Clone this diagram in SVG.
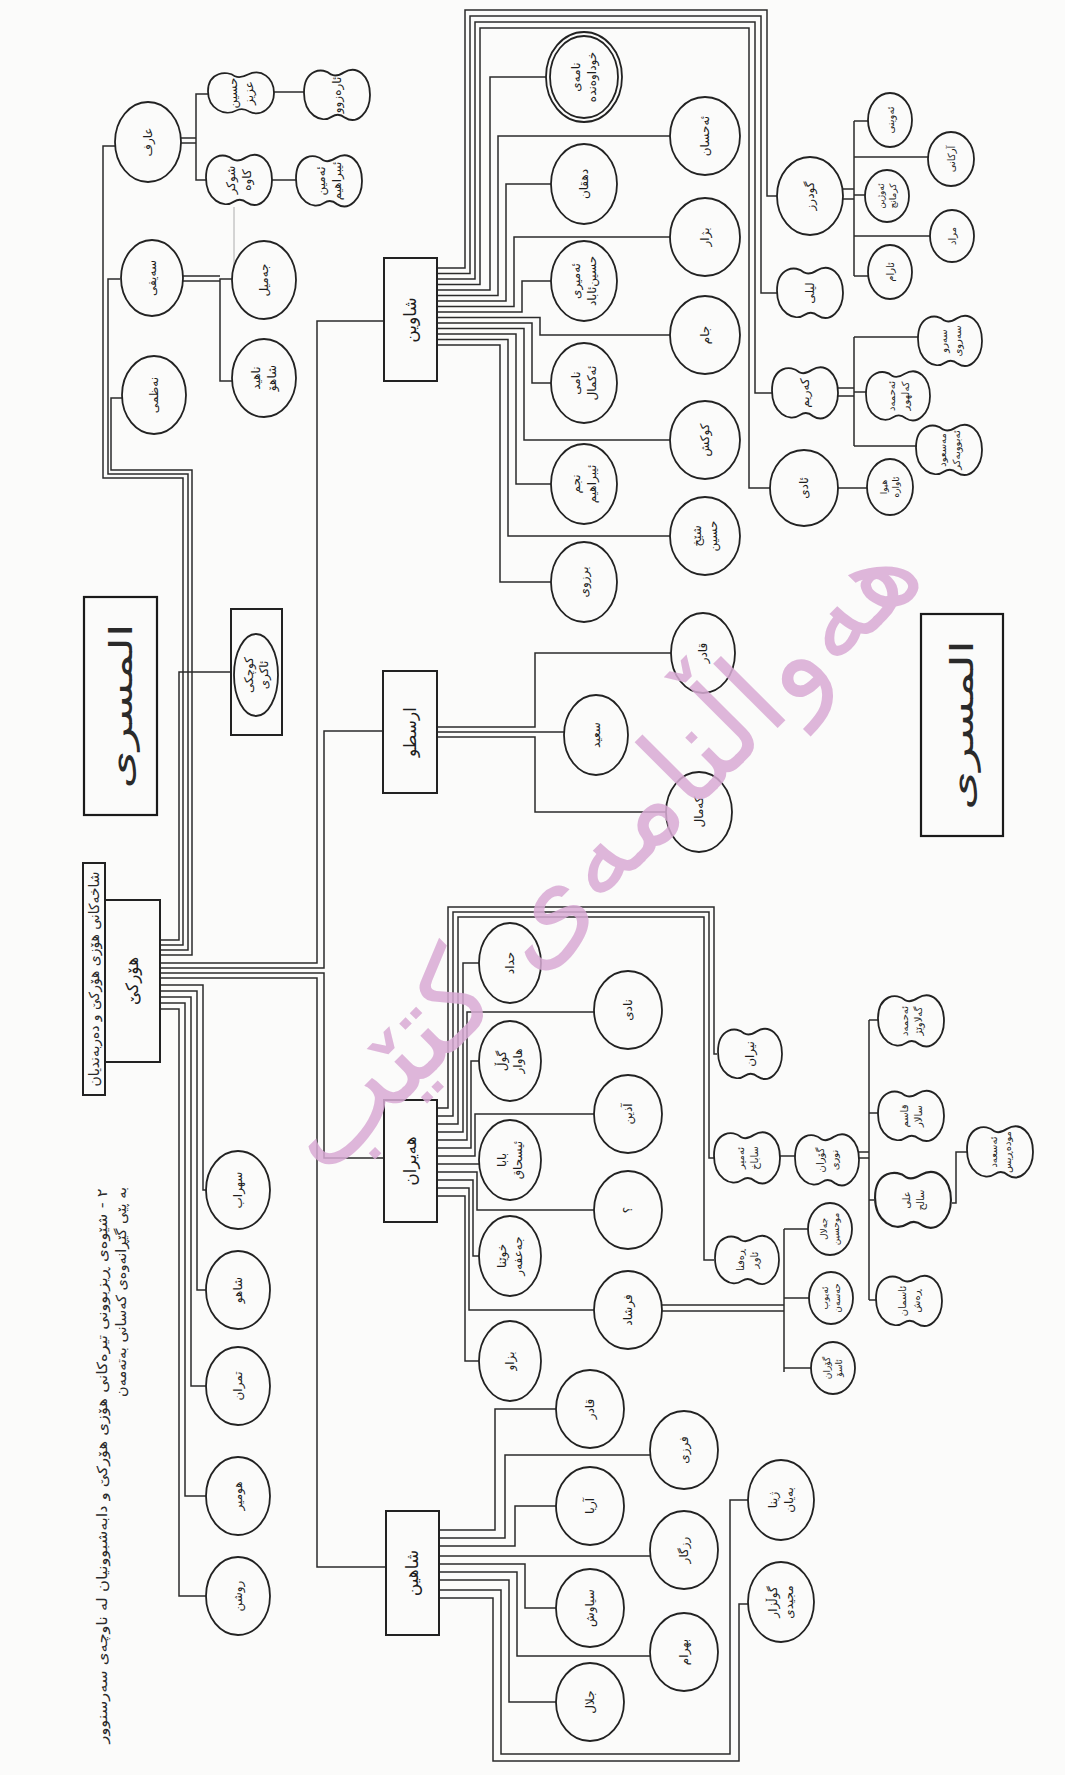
<svg xmlns="http://www.w3.org/2000/svg" xmlns:xlink="http://www.w3.org/1999/xlink" width="1065" height="1775" viewBox="0 0 1065 1775">
<style>
.ln{fill:none;stroke:#2b2b2b;stroke-width:1.5}
.fa{fill:none;stroke:#9a9a9a;stroke-width:0.8}
.nd{fill:none;stroke:#222;stroke-width:1.8}
.bx{fill:none;stroke:#222;stroke-width:2}
.bb{fill:none;stroke:#1a1a1a;stroke-width:2.2}
.lb{font-family:"DejaVu Sans",sans-serif;font-size:12px;fill:#1e1e1e;text-anchor:middle;dominant-baseline:central}
.lbb{font-family:"DejaVu Sans",sans-serif;font-size:17px;fill:#1e1e1e;text-anchor:middle;dominant-baseline:central}
.big{font-family:"DejaVu Sans",sans-serif;font-size:32px;fill:#2a2a2a;text-anchor:middle;dominant-baseline:central}
.ttl{font-family:"DejaVu Sans",sans-serif;font-size:14px;fill:#2a2a2a;text-anchor:middle;dominant-baseline:central}
.wm{font-family:"DejaVu Sans",sans-serif;font-size:120px;fill:#d9abd5;opacity:0.85;text-anchor:middle;dominant-baseline:central}
</style>
<defs>
<path id="pn" d="M-6,-19 C-14,-26 -33,-24 -33,-2 C-33,18 -16,27 -5,20 C0,17 4,18 8,21 C20,28 33,16 33,0 C33,-18 20,-28 7,-21 C2,-18 -2,-17 -6,-19 Z"/>
</defs>
<rect width="1065" height="1775" fill="#fbfbfa"/>

<g id="connectors">
<path class="ln" d="M115,146 H103 V478 H183 V945 H160"/>
<path class="ln" d="M120,279 H108 V474 H188 V950 H160"/>
<path class="ln" d="M122,398 H111 V470 H192 V955 H160"/>
<path class="ln" d="M231,672 H179 V940 H160"/>
<path class="ln" d="M181,138 H196 M181,143 H196 M208,94 H196 V180 H207 M274,92 H304 M272,180 H296"/>
<path class="ln" d="M183,276 H220 M183,281 H220 M232,279 H220 V381 H232"/>
<path class="fa" d="M234,207 V268"/>
<path class="ln" d="M160,963 H317 V321 H384"/>
<path class="ln" d="M160,968 H324 V731 H383"/>
<path class="ln" d="M160,973 H324 V1158 H384"/>
<path class="ln" d="M160,978 H317 V1567 H386"/>
<path class="ln" d="M160,985 H203 V1190 H207"/>
<path class="ln" d="M160,991 H197 V1290 H206"/>
<path class="ln" d="M160,997 H191 V1386 H206"/>
<path class="ln" d="M160,1003 H185 V1496 H206"/>
<path class="ln" d="M160,1009 H179 V1596 H206"/>
<path class="ln" d="M437,268 H465 V10 H767 V196 H777"/>
<path class="ln" d="M437,273.5 H470 V16 H761 V293 H777"/>
<path class="ln" d="M437,279 H475 V22 H755 V393 H772"/>
<path class="ln" d="M437,284.5 H480 V28 H749 V488 H770"/>
<path class="ln" d="M437,290 H490 V77 H546"/>
<path class="ln" d="M437,295.5 H498 V136 H670"/>
<path class="ln" d="M437,301 H506 V184 H551"/>
<path class="ln" d="M437,306.5 H514 V237 H670"/>
<path class="ln" d="M437,312 H522 V281 H551"/>
<path class="ln" d="M437,317.5 H540 V335 H670"/>
<path class="ln" d="M437,323 H532 V383 H551"/>
<path class="ln" d="M437,328.5 H524 V440 H670"/>
<path class="ln" d="M437,334 H516 V484 H551"/>
<path class="ln" d="M437,339.5 H508 V536 H670"/>
<path class="ln" d="M437,345 H500 V582 H551"/>
<path class="ln" d="M842,189 H854 M842,199 H854 M854,121 V276 M854,121 H868 M854,157 H928 M854,195 H865 M854,236 H930 M854,276 H868"/>
<path class="ln" d="M838,388 H854 M838,396 H854 M854,337 V446 M854,337 H918 M854,392 H866 M854,446 H917"/>
<path class="ln" d="M838,488 H867"/>
<path class="ln" d="M437,727 H535 V653 H671 M437,732 H564 M437,737 H535 V812 H666"/>
<path class="ln" d="M437,1108 H448 V907 H714 V1054 H717"/>
<path class="ln" d="M437,1116 H453 V912 H709 V1158 H714"/>
<path class="ln" d="M437,1124 H458 V917 H704 V1260 H714"/>
<path class="ln" d="M437,1132 H463 V963 H479"/>
<path class="ln" d="M437,1140 H467 V1012 H594"/>
<path class="ln" d="M437,1148 H471 V1061 H479"/>
<path class="ln" d="M437,1156 H475 V1114 H594"/>
<path class="ln" d="M437,1164 H479"/>
<path class="ln" d="M437,1172 H477 V1210 H594"/>
<path class="ln" d="M437,1180 H473 V1256 H479"/>
<path class="ln" d="M437,1188 H469 V1310 H594"/>
<path class="ln" d="M437,1196 H465 V1361 H479"/>
<path class="ln" d="M780,1156 H795"/>
<path class="ln" d="M859,1152 H869 M859,1158 H869 M869,1020 V1300 M869,1020 H878 M869,1113 H878 M869,1200 H874 M869,1300 H876"/>
<path class="ln" d="M952,1203 H956 V1152 H967"/>
<path class="ln" d="M661,1305 H784 M661,1311 H784 M784,1229 V1372 M784,1229 H808 M784,1298 H809 M784,1368 H811"/>
<path class="ln" d="M439,1530 H495 V1409 H556"/>
<path class="ln" d="M439,1538 H505 V1455 H651"/>
<path class="ln" d="M439,1546 H515 V1506 H556"/>
<path class="ln" d="M439,1556 H651"/>
<path class="ln" d="M439,1564 H525 V1608 H556"/>
<path class="ln" d="M439,1572 H517 V1656 H650"/>
<path class="ln" d="M439,1580 H509 V1702 H556"/>
<path class="ln" d="M439,1590 H501 V1754 H730 V1500 H748"/>
<path class="ln" d="M439,1598 H493 V1761 H739 V1604 H748"/>
</g>

<g id="n-arif"><ellipse class="nd" cx="148" cy="142" rx="33" ry="40"/><text class="lb" transform="translate(148,142) rotate(-90)">عارف</text></g>
<g id="n-p1"><use href="#pn" class="nd" transform="translate(241,93) scale(1,0.88)"/><text class="lb" transform="translate(241,93) rotate(-90)"><tspan x="0" y="-8">حسین</tspan><tspan x="0" y="8">عزیز</tspan></text></g>
<g id="n-p2"><use href="#pn" class="nd" transform="translate(337,95) scale(1,1.08)"/><text class="lb" transform="translate(337,95) rotate(-90)">ئارەزوو</text></g>
<g id="n-p3"><use href="#pn" class="nd" transform="translate(239,180) scale(1,1.08)"/><text class="lb" transform="translate(239,180) rotate(-90)"><tspan x="0" y="-8">شوکر</tspan><tspan x="0" y="8">کاوە</tspan></text></g>
<g id="n-p4"><use href="#pn" class="nd" transform="translate(329,181) scale(1,1.1)"/><text class="lb" transform="translate(329,181) rotate(-90)"><tspan x="0" y="-8">ئەمین</tspan><tspan x="0" y="8">ئیبراهیم</tspan></text></g>
<g id="n-seyfi"><ellipse class="nd" cx="152" cy="278" rx="31" ry="38"/><text class="lb" transform="translate(152,278) rotate(-90)">سەیفی</text></g>
<g id="n-nazmi"><ellipse class="nd" cx="154" cy="395" rx="32" ry="39"/><text class="lb" transform="translate(154,395) rotate(-90)">نەظمی</text></g>
<g id="n-jamil"><ellipse class="nd" cx="264" cy="280" rx="32" ry="39"/><text class="lb" transform="translate(264,280) rotate(-90)">جەمیل</text></g>
<g id="n-nahid"><ellipse class="nd" cx="264" cy="378" rx="32" ry="39"/><text class="lb" transform="translate(264,378) rotate(-90)"><tspan x="0" y="-8">ناهید</tspan><tspan x="0" y="8">شاهۆ</tspan></text></g>

<g id="n-title1"><rect class="bb" x="84" y="597" width="73" height="218"/><text class="big" transform="translate(121,706) rotate(-90)" textLength="165" lengthAdjust="spacingAndGlyphs">المسری</text></g>
<g id="n-title2"><rect class="bb" x="921" y="614" width="82" height="222"/><text class="big" transform="translate(962,725) rotate(-90)" textLength="170" lengthAdjust="spacingAndGlyphs">المسری</text></g>
<g id="n-small"><rect class="bx" x="231" y="609" width="51" height="126"/><ellipse class="nd" cx="256" cy="675" rx="22" ry="41"/><text class="lb" transform="translate(256,675) rotate(-90)"><tspan x="0" y="-7">کوچکی</tspan><tspan x="0" y="8">ئاکری</tspan></text></g>

<g id="n-long"><rect class="bx" x="83" y="863" width="22" height="232"/><text class="ttl" transform="translate(94,979) rotate(-90)" textLength="215" lengthAdjust="spacingAndGlyphs">شاخەکانی هۆزی هۆرکێ و دەربەندیان</text></g>
<g id="n-main"><rect class="bx" x="105" y="900" width="55" height="162"/><text class="lbb" transform="translate(132,981) rotate(-90)">هۆرکێ</text></g>

<g id="n-sohrab"><ellipse class="nd" cx="238" cy="1190" rx="32" ry="39"/><text class="lb" transform="translate(238,1190) rotate(-90)">سهراب</text></g>
<g id="n-shaho"><ellipse class="nd" cx="238" cy="1290" rx="32" ry="39"/><text class="lb" transform="translate(238,1290) rotate(-90)">شاهو</text></g>
<g id="n-tamran"><ellipse class="nd" cx="238" cy="1386" rx="32" ry="39"/><text class="lb" transform="translate(238,1386) rotate(-90)">تمران</text></g>
<g id="n-homer"><ellipse class="nd" cx="238" cy="1496" rx="32" ry="39"/><text class="lb" transform="translate(238,1496) rotate(-90)">هومیر</text></g>
<g id="n-roshan"><ellipse class="nd" cx="238" cy="1596" rx="32" ry="39"/><text class="lb" transform="translate(238,1596) rotate(-90)">روشن</text></g>

<g id="n-shawin"><rect class="bx" x="384" y="258" width="53" height="123"/><text class="lbb" transform="translate(410,320) rotate(-90)">شاوین</text></g>
<g id="n-nama"><ellipse class="nd" cx="584" cy="77" rx="38" ry="45"/><ellipse class="nd" cx="584" cy="77" rx="34" ry="41"/><text class="lb" transform="translate(584,77) rotate(-90)"><tspan x="0" y="-8">نامەی</tspan><tspan x="0" y="8">خوداوەندە</tspan></text></g>
<g id="n-dehqan"><ellipse class="nd" cx="584" cy="184" rx="33" ry="40"/><text class="lb" transform="translate(584,184) rotate(-90)">دهقان</text></g>
<g id="n-hoseinabad"><ellipse class="nd" cx="584" cy="281" rx="33" ry="40"/><text class="lb" transform="translate(584,281) rotate(-90)"><tspan x="0" y="-8">ئەمیری</tspan><tspan x="0" y="8">حسین‌ئاباد</tspan></text></g>
<g id="n-akmal"><ellipse class="nd" cx="584" cy="383" rx="33" ry="40"/><text class="lb" transform="translate(584,383) rotate(-90)"><tspan x="0" y="-8">نامی</tspan><tspan x="0" y="8">ئەکمال</tspan></text></g>
<g id="n-najm"><ellipse class="nd" cx="584" cy="484" rx="33" ry="40"/><text class="lb" transform="translate(584,484) rotate(-90)"><tspan x="0" y="-8">نجم</tspan><tspan x="0" y="8">ئیبراهیم</tspan></text></g>
<g id="n-barzoi"><ellipse class="nd" cx="584" cy="582" rx="33" ry="40"/><text class="lb" transform="translate(584,582) rotate(-90)">برزوی</text></g>
<g id="n-ehsan"><ellipse class="nd" cx="705" cy="136" rx="35" ry="39"/><text class="lb" transform="translate(705,136) rotate(-90)">ئەحسان</text></g>
<g id="n-bzhar"><ellipse class="nd" cx="705" cy="237" rx="35" ry="39"/><text class="lb" transform="translate(705,237) rotate(-90)">بژار</text></g>
<g id="n-jam"><ellipse class="nd" cx="705" cy="335" rx="35" ry="39"/><text class="lb" transform="translate(705,335) rotate(-90)">جام</text></g>
<g id="n-kokesh"><ellipse class="nd" cx="705" cy="440" rx="35" ry="39"/><text class="lb" transform="translate(705,440) rotate(-90)">کوکش</text></g>
<g id="n-sheikh"><ellipse class="nd" cx="705" cy="536" rx="35" ry="39"/><text class="lb" transform="translate(705,536) rotate(-90)"><tspan x="0" y="-8">شێخ</tspan><tspan x="0" y="8">حسین</tspan></text></g>
<g id="n-gudarz"><ellipse class="nd" cx="810" cy="196" rx="33" ry="39"/><text class="lb" transform="translate(810,196) rotate(-90)">گودرز</text></g>
<g id="n-g1"><ellipse class="nd" cx="890" cy="120" rx="22" ry="27"/><text class="lb" transform="translate(890,120) rotate(-90)" style="font-size:10px">ئەوینی</text></g>
<g id="n-g2"><ellipse class="nd" cx="951" cy="159" rx="23" ry="27"/><text class="lb" transform="translate(951,159) rotate(-90)" style="font-size:10px">آرکانی</text></g>
<g id="n-g3"><ellipse class="nd" cx="887" cy="196" rx="22" ry="26"/><text class="lb" transform="translate(887,196) rotate(-90)" style="font-size:9px"><tspan x="0" y="-6">ئەوژین</tspan><tspan x="0" y="6">کرمانج</tspan></text></g>
<g id="n-g4"><ellipse class="nd" cx="952" cy="236" rx="22" ry="26"/><text class="lb" transform="translate(952,236) rotate(-90)" style="font-size:10px">مراد</text></g>
<g id="n-g5"><ellipse class="nd" cx="890" cy="272" rx="22" ry="27"/><text class="lb" transform="translate(890,272) rotate(-90)" style="font-size:10px">ئارام</text></g>
<g id="n-leyli"><use href="#pn" class="nd" transform="translate(810,293) scale(1,1.08)"/><text class="lb" transform="translate(810,293) rotate(-90)">لیلی</text></g>
<g id="n-karim"><use href="#pn" class="nd" transform="translate(805,393) scale(1,1.1)"/><text class="lb" transform="translate(805,393) rotate(-90)">کەریم</text></g>
<g id="n-k1"><use href="#pn" class="nd" transform="translate(950,341) scale(0.97,1.08)"/><text class="lb" transform="translate(950,341) rotate(-90)" style="font-size:10px"><tspan x="0" y="-7">سەرو</tspan><tspan x="0" y="7">سەروی</tspan></text></g>
<g id="n-k2"><use href="#pn" class="nd" transform="translate(898,396) scale(0.97,1.06)"/><text class="lb" transform="translate(898,396) rotate(-90)" style="font-size:10px"><tspan x="0" y="-7">ئەحمەد</tspan><tspan x="0" y="7">کەلهوڕ</tspan></text></g>
<g id="n-k3"><use href="#pn" class="nd" transform="translate(949,450) scale(1,1.08)"/><text class="lb" transform="translate(949,450) rotate(-90)" style="font-size:10px"><tspan x="0" y="-7">مەسعود</tspan><tspan x="0" y="7">ئەبووبەکر</tspan></text></g>
<g id="n-adi"><ellipse class="nd" cx="804" cy="488" rx="34" ry="38"/><text class="lb" transform="translate(804,488) rotate(-90)">ئادی</text></g>
<g id="n-a1"><ellipse class="nd" cx="890" cy="487" rx="23" ry="28"/><text class="lb" transform="translate(890,487) rotate(-90)" style="font-size:9px"><tspan x="0" y="-6">هیوا</tspan><tspan x="0" y="6">ئاوارە</tspan></text></g>

<g id="n-arastu"><rect class="bx" x="383" y="671" width="54" height="122"/><text class="lbb" transform="translate(410,732) rotate(-90)">ارسطو</text></g>
<g id="n-qader1"><ellipse class="nd" cx="703" cy="653" rx="32" ry="40"/><text class="lb" transform="translate(703,653) rotate(-90)">قادر</text></g>
<g id="n-saeed"><ellipse class="nd" cx="596" cy="735" rx="32" ry="40"/><text class="lb" transform="translate(596,735) rotate(-90)">سعید</text></g>
<g id="n-kamal"><ellipse class="nd" cx="699" cy="812" rx="33" ry="40"/><text class="lb" transform="translate(699,812) rotate(-90)">کەمال</text></g>

<g id="n-heyran"><rect class="bx" x="384" y="1100" width="53" height="122"/><text class="lbb" transform="translate(410,1161) rotate(-90)">هەیران</text></g>
<g id="n-haddad"><ellipse class="nd" cx="510" cy="963" rx="31" ry="40"/><text class="lb" transform="translate(510,963) rotate(-90)">حداد</text></g>
<g id="n-gul"><ellipse class="nd" cx="510" cy="1061" rx="31" ry="40"/><text class="lb" transform="translate(510,1061) rotate(-90)"><tspan x="0" y="-8">گوڵ</tspan><tspan x="0" y="8">هاوار</tspan></text></g>
<g id="n-baba"><ellipse class="nd" cx="510" cy="1160" rx="31" ry="40"/><text class="lb" transform="translate(510,1160) rotate(-90)"><tspan x="0" y="-8">بابا</tspan><tspan x="0" y="8">ئیسحاق</tspan></text></g>
<g id="n-khwena"><ellipse class="nd" cx="510" cy="1256" rx="31" ry="40"/><text class="lb" transform="translate(510,1256) rotate(-90)"><tspan x="0" y="-8">خوێنا</tspan><tspan x="0" y="8">جەعفەر</tspan></text></g>
<g id="n-bzaw"><ellipse class="nd" cx="510" cy="1361" rx="31" ry="40"/><text class="lb" transform="translate(510,1361) rotate(-90)">بزاو</text></g>
<g id="n-nadi"><ellipse class="nd" cx="628" cy="1010" rx="34" ry="39"/><text class="lb" transform="translate(628,1010) rotate(-90)">نادی</text></g>
<g id="n-azin"><ellipse class="nd" cx="628" cy="1114" rx="34" ry="39"/><text class="lb" transform="translate(628,1114) rotate(-90)">آذین</text></g>
<g id="n-q"><ellipse class="nd" cx="628" cy="1210" rx="34" ry="39"/><text class="lb" transform="translate(628,1210) rotate(-90)">؟</text></g>
<g id="n-farshad"><ellipse class="nd" cx="628" cy="1310" rx="34" ry="39"/><text class="lb" transform="translate(628,1310) rotate(-90)">فرشاد</text></g>
<g id="n-f1"><ellipse class="nd" cx="830" cy="1229" rx="22" ry="26"/><text class="lb" transform="translate(830,1229) rotate(-90)" style="font-size:9px"><tspan x="0" y="-6">جەلال</tspan><tspan x="0" y="6">موحسین</tspan></text></g>
<g id="n-f2"><ellipse class="nd" cx="831" cy="1298" rx="22" ry="26"/><text class="lb" transform="translate(831,1298) rotate(-90)" style="font-size:9px"><tspan x="0" y="-6">ئەیوب</tspan><tspan x="0" y="6">حەسەن</tspan></text></g>
<g id="n-f3"><ellipse class="nd" cx="833" cy="1368" rx="22" ry="26"/><text class="lb" transform="translate(833,1368) rotate(-90)" style="font-size:9px"><tspan x="0" y="-6">گۆران</tspan><tspan x="0" y="6">ئاسۆ</tspan></text></g>
<g id="n-niran"><use href="#pn" class="nd" transform="translate(750,1054) scale(0.97,1.08)"/><text class="lb" transform="translate(750,1054) rotate(-90)">نیران</text></g>
<g id="n-sabakh"><use href="#pn" class="nd" transform="translate(747,1158) scale(1,1.1)"/><text class="lb" transform="translate(747,1158) rotate(-90)" style="font-size:10px"><tspan x="0" y="-7">ئەمیر</tspan><tspan x="0" y="7">ساباخ</tspan></text></g>
<g id="n-goran"><use href="#pn" class="nd" transform="translate(827,1160) scale(0.97,1.1)"/><text class="lb" transform="translate(827,1160) rotate(-90)" style="font-size:10px"><tspan x="0" y="-7">گۆران</tspan><tspan x="0" y="7">نوری</tspan></text></g>
<g id="n-gelawezh"><use href="#pn" class="nd" transform="translate(911,1021) scale(1,1.1)"/><text class="lb" transform="translate(911,1021) rotate(-90)" style="font-size:10px"><tspan x="0" y="-7">ئەحمەد</tspan><tspan x="0" y="7">گەلاوێژ</tspan></text></g>
<g id="n-qasim"><use href="#pn" class="nd" transform="translate(911,1116) scale(1,1.08)"/><text class="lb" transform="translate(911,1116) rotate(-90)" style="font-size:10px"><tspan x="0" y="-7">قاسم</tspan><tspan x="0" y="7">سالار</tspan></text></g>
<g id="n-ali"><use href="#pn" class="nd" transform="translate(913,1200) scale(1.15,1.2)"/><text class="lb" transform="translate(913,1200) rotate(-90)" style="font-size:10px"><tspan x="0" y="-7">علی</tspan><tspan x="0" y="7">سالح</tspan></text></g>
<g id="n-asman"><use href="#pn" class="nd" transform="translate(909,1301) scale(1,1.08)"/><text class="lb" transform="translate(909,1301) rotate(-90)" style="font-size:10px"><tspan x="0" y="-7">ئاسمان</tspan><tspan x="0" y="7">ڕەش</tspan></text></g>
<g id="n-asad"><use href="#pn" class="nd" transform="translate(1000,1152) scale(1,1.1)"/><text class="lb" transform="translate(1000,1152) rotate(-90)" style="font-size:10px"><tspan x="0" y="-7">ئەسعەد</tspan><tspan x="0" y="7">مودەڕیس</tspan></text></g>
<g id="n-rafna"><use href="#pn" class="nd" transform="translate(747,1260) scale(0.97,1.04)"/><text class="lb" transform="translate(747,1260) rotate(-90)" style="font-size:10px"><tspan x="0" y="-7">ڕەفنا</tspan><tspan x="0" y="7">ئاوڕ</tspan></text></g>

<g id="n-shahin"><rect class="bx" x="386" y="1511" width="53" height="124"/><text class="lbb" transform="translate(412,1573) rotate(-90)">شاهین</text></g>
<g id="n-qader2"><ellipse class="nd" cx="590" cy="1409" rx="34" ry="39"/><text class="lb" transform="translate(590,1409) rotate(-90)">قادر</text></g>
<g id="n-aria"><ellipse class="nd" cx="590" cy="1506" rx="34" ry="39"/><text class="lb" transform="translate(590,1506) rotate(-90)">آریا</text></g>
<g id="n-siyavash"><ellipse class="nd" cx="590" cy="1608" rx="34" ry="39"/><text class="lb" transform="translate(590,1608) rotate(-90)">سیاوش</text></g>
<g id="n-jalal"><ellipse class="nd" cx="590" cy="1702" rx="34" ry="39"/><text class="lb" transform="translate(590,1702) rotate(-90)">جلال</text></g>
<g id="n-farzi"><ellipse class="nd" cx="684" cy="1450" rx="34" ry="39"/><text class="lb" transform="translate(684,1450) rotate(-90)">فرزی</text></g>
<g id="n-rizgar"><ellipse class="nd" cx="684" cy="1550" rx="34" ry="39"/><text class="lb" transform="translate(684,1550) rotate(-90)">رزگار</text></g>
<g id="n-bahram"><ellipse class="nd" cx="684" cy="1652" rx="34" ry="39"/><text class="lb" transform="translate(684,1652) rotate(-90)">بهرام</text></g>
<g id="n-zhina"><ellipse class="nd" cx="781" cy="1500" rx="33" ry="40"/><text class="lb" transform="translate(781,1500) rotate(-90)"><tspan x="0" y="-8">ژینا</tspan><tspan x="0" y="8">بەیان</tspan></text></g>
<g id="n-gulzar"><ellipse class="nd" cx="781" cy="1602" rx="33" ry="40"/><text class="lb" transform="translate(781,1602) rotate(-90)"><tspan x="0" y="-8">گوڵزار</tspan><tspan x="0" y="8">مجیدی</tspan></text></g>

<g id="caption">
<text class="ttl" transform="translate(102,1466) rotate(-90)" textLength="555" lengthAdjust="spacingAndGlyphs">٢ - شێوەی ڕیزبوونی تیرەکانی هۆزی هۆرکێ و دابەشبوونیان لە ناوچەی سەرسنوور</text>
<text class="ttl" transform="translate(121,1292) rotate(-90)" textLength="210" lengthAdjust="spacingAndGlyphs">بە پێی گێڕانەوەی کەسانی بەتەمەن</text>
</g>

<text class="wm" transform="translate(597,850) rotate(-45)" textLength="850" lengthAdjust="spacingAndGlyphs">هەواڵنامەی کتێب</text>
</svg>
